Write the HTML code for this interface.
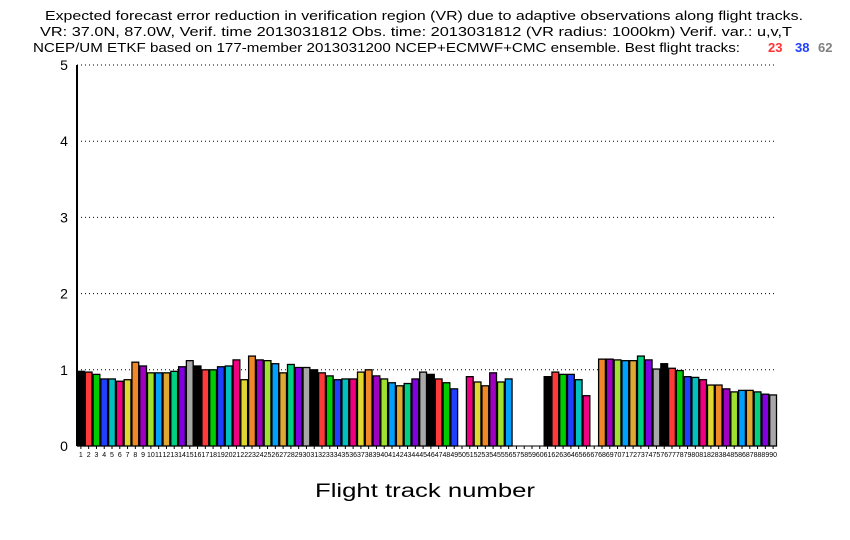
<!DOCTYPE html>
<html><head><meta charset="utf-8"><style>
body{margin:0;background:#fff;}
svg{display:block;font-family:"Liberation Sans",sans-serif;}
</style></head><body>
<svg id="chart" width="850" height="540" viewBox="0 0 850 540">
<rect width="850" height="540" fill="#fff"/>
<g font-size="13" fill="#000">
<text x="45" y="20" textLength="758" lengthAdjust="spacingAndGlyphs">Expected forecast error reduction in verification region (VR) due to adaptive observations along flight tracks.</text>
<text x="40" y="36" textLength="752" lengthAdjust="spacingAndGlyphs">VR: 37.0N, 87.0W, Verif. time 2013031812 Obs. time: 2013031812 (VR radius: 1000km)  Verif. var.: u,v,T</text>
<text x="33" y="52" textLength="707" lengthAdjust="spacingAndGlyphs">NCEP/UM ETKF based on 177-member 2013031200 NCEP+ECMWF+CMC ensemble. Best flight tracks:</text>
<text x="768" y="52" fill="#ff3333" font-weight="bold">23</text>
<text x="795" y="52" fill="#2040ff" font-weight="bold">38</text>
<text x="818" y="52" fill="#808080" font-weight="bold">62</text>
</g>
<g id="grid"></g>
<g id="bars"></g>
<g id="axes"></g>
<text x="425" y="497" font-size="19" text-anchor="middle" textLength="220" lengthAdjust="spacingAndGlyphs">Flight track number</text>
</svg>
<script>
const values = [0.98,0.97,0.94,0.88,0.88,0.85,0.87,1.10,1.05,0.96,0.96,0.96,0.98,1.04,1.12,
1.05,1.00,1.00,1.04,1.05,1.13,0.87,1.18,1.13,1.12,1.08,0.96,1.07,1.03,1.03,
1.00,0.96,0.92,0.87,0.88,0.88,0.97,1.00,0.92,0.88,0.83,0.79,0.82,0.88,0.97,
0.94,0.88,0.83,0.75,0,0.91,0.84,0.79,0.96,0.84,0.88,0,0,0,0,
0.91,0.97,0.94,0.94,0.87,0.66,0,1.14,1.14,1.13,1.12,1.12,1.18,1.13,1.01,
1.08,1.02,0.99,0.91,0.90,0.87,0.80,0.80,0.75,0.71,0.73,0.73,0.71,0.68,0.67];
const colors = ["#000000","#ff3a3a","#00cc00","#2040ff","#00c0c0","#f00080","#e0d830","#f08828","#a000c0","#a0e030","#00a0ff","#e0a830","#00d080","#8000e0","#a8a8a8"];
const yTicks = [0,1,2,3,4,5];
const NS="http://www.w3.org/2000/svg";
const x0=77,x1=777,y0=446,yTop=65,yMax=5;
const bw=(x1-x0)/values.length;
const xs=i=>x0+i*bw;
const ys=v=>y0-(v/yMax)*(y0-yTop);
function mk(tag,attrs,parent){const e=document.createElementNS(NS,tag);for(const k in attrs)e.setAttribute(k,attrs[k]);parent.appendChild(e);return e;}
const grid=document.getElementById('grid'),bars=document.getElementById('bars'),axes=document.getElementById('axes');
yTicks.forEach(t=>{
  if(t>0){const l=mk('line',{x1:x0,x2:x1,y1:ys(t),y2:ys(t),stroke:'#000','stroke-width':1,'stroke-dasharray':'1 3'},grid);
  
  }
  const tx=mk('text',{x:64,y:ys(t)+5,'font-size':14,'text-anchor':'middle'},axes);
  tx.textContent=t;
  
  
});
values.forEach((v,i)=>{
  if(v>0){const r=mk('rect',{x:xs(i)+0.5,y:ys(v),width:bw-1,height:y0-ys(v),fill:colors[i%15],stroke:'#000','stroke-width':1.3},bars);
  
  }
  const tk=mk('line',{x1:xs(i)+bw/2,x2:xs(i)+bw/2,y1:y0,y2:y0+3,stroke:'#000','stroke-width':1},axes);
  
  
  const lb=mk('text',{x:xs(i)+bw/2,y:y0+11,'font-size':7,'text-anchor':'middle'},axes);
  lb.textContent=i+1;
  
  
});
const ya=mk('line',{x1:x0,x2:x0,y1:yTop,y2:y0,stroke:'#000','stroke-width':2},axes);


const xa=mk('line',{x1:x0,x2:x1,y1:y0,y2:y0,stroke:'#000','stroke-width':1},axes);


</script>
</body></html>
